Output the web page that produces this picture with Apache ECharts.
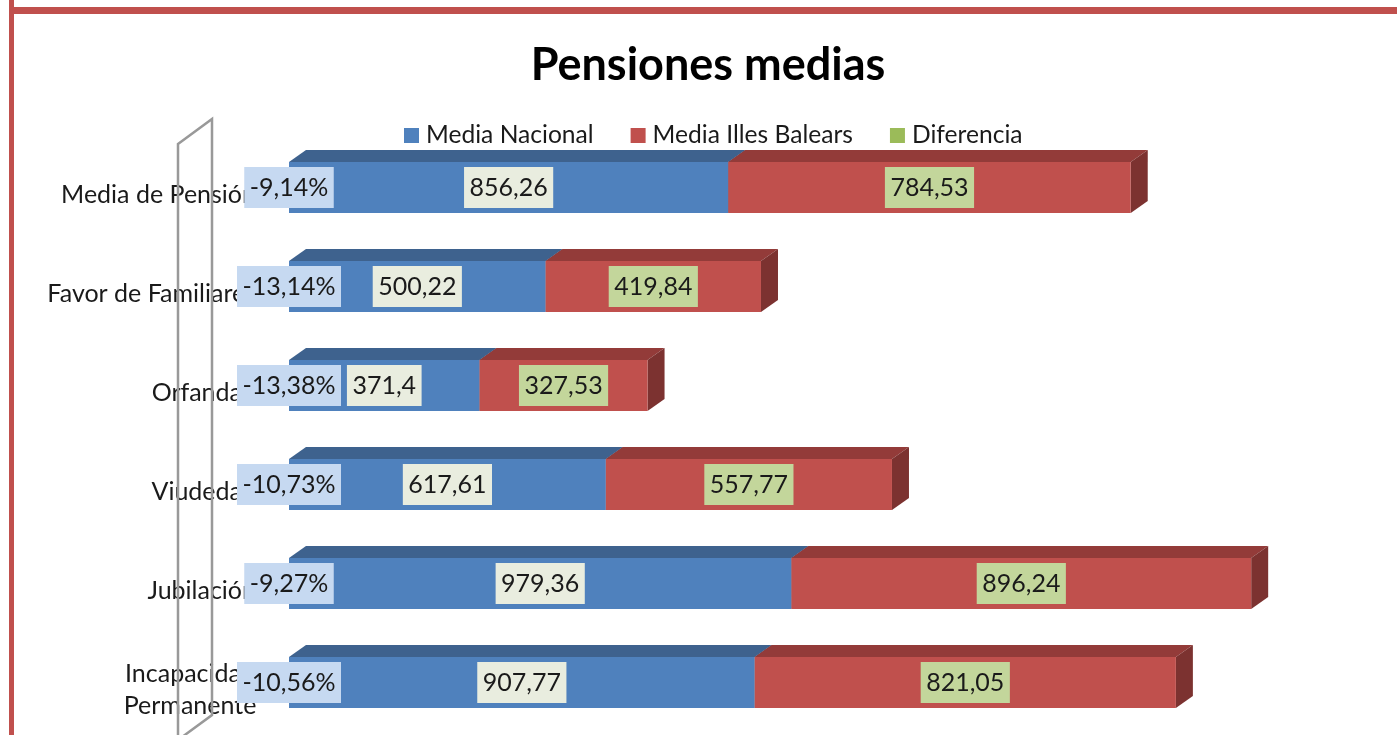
<!DOCTYPE html>
<html><head><meta charset="utf-8">
<style>html,body{margin:0;padding:0;background:#fff}#c{width:1397px;height:735px}</style>
<script src="https://cdn.jsdelivr.net/npm/echarts@6/dist/echarts.min.js"></script>
</head><body><div id="c"></div>
<script>
const categories = ['Media de Pensión','Favor de Familiares','Orfandad','Viudedad','Jubilación','Incapacidad\nPermanente'];
const mediaNacional = [856.26,500.22,371.4,617.61,979.36,907.77];
const mediaBaleares = [784.53,419.84,327.53,557.77,896.24,821.05];
const diferencia = [-9.14,-13.14,-13.38,-10.73,-9.27,-10.56];
const FONT = 'Lato, "Noto Sans", sans-serif';
const fmt = v => String(v).replace('.',',');
const DX = 17, DY = 12, BAR = 51;

function labelEl(x,y,text,bg){
  return {type:'text',z2:50,style:{x:x,y:y,text:text,align:'center',verticalAlign:'middle',
    fill:'#1a1a1a',font:'25px '+FONT,backgroundColor:bg,padding:[8,5.5,8,5.5]}};
}
function barRender(front,top,side,labelBg){
  return function(params,api){
    const a = api.coord([api.value(0),api.value(2)]);
    const b = api.coord([api.value(1),api.value(2)]);
    const yc = a[1], y0 = yc-BAR/2, y1 = yc+BAR/2;
    const x0 = a[0], x1 = b[0];
    return {type:'group',children:[
      {type:'polygon',shape:{points:[[x0,y0],[x1,y0],[x1+DX,y0-DY],[x0+DX,y0-DY]]},style:{fill:top}},
      {type:'polygon',shape:{points:[[x1,y0],[x1+DX,y0-DY],[x1+DX,y1-DY],[x1,y1]]},style:{fill:side}},
      {type:'rect',shape:{x:x0,y:y0,width:x1-x0,height:BAR},style:{fill:front}},
      labelEl((x0+x1)/2,yc,fmt(api.value(3)),labelBg)
    ]};
  };
}
function pctRender(params,api){
  const a = api.coord([0,api.value(1)]);
  return labelEl(a[0],a[1],fmt(api.value(0))+'%','#c6d9f1');
}
const option = {
  animation:false,
  backgroundColor:'#fff',
  title:{text:'Pensiones medias',left:703,top:60,textAlign:'center',textVerticalAlign:'middle',
    textStyle:{fontFamily:FONT,fontWeight:'bold',fontSize:45,color:'#000'}},
  legend:{left:399,top:118,icon:'rect',itemWidth:15,itemHeight:15,itemGap:37,
    data:['Media Nacional','Media Illes Balears','Diferencia'],
    textStyle:{fontFamily:FONT,fontSize:24.6,color:'#1a1a1a',padding:[0,0,0,2]}},
  grid:[
    {left:289,top:138,width:1026,height:594},
    {left:289,top:194.5,width:1026,height:495}
  ],
  xAxis:[
    {type:'value',min:0,max:2000,show:false,gridIndex:0},
    {type:'value',min:0,max:2000,show:false,gridIndex:1}
  ],
  yAxis:[
    {type:'category',inverse:true,data:categories,gridIndex:0,
      axisLine:{show:false},axisTick:{show:false},axisLabel:{show:false}},
    {type:'category',inverse:true,boundaryGap:false,data:categories,gridIndex:1,
      axisLine:{show:false},axisTick:{show:false},
      axisLabel:{interval:0,margin:33,fontFamily:FONT,fontSize:25,color:'#1a1a1a',align:'right',lineHeight:32,
        formatter:v=>v.includes('\n')?v.split('\n').map(s=>'{c|'+s+'}').join('\n'):v,
        rich:{c:{width:132,align:'center',fontFamily:FONT,fontSize:25,color:'#1a1a1a',lineHeight:32}}}}
  ],
  graphic:[
    {type:'rect',z:100,shape:{x:9,y:7,width:1388,height:7},style:{fill:'#c0504d'}},
    {type:'rect',z:100,shape:{x:9,y:0,width:5,height:735},style:{fill:'#c0504d'}},
    {type:'polygon',z:1,shape:{points:[[178,144],[212,119],[212,715],[178,740]]},
      style:{fill:'none',stroke:'#999999',lineWidth:2.5}}
  ],
  series:[
    {name:'Media Nacional',type:'custom',z:3,xAxisIndex:0,yAxisIndex:0,itemStyle:{color:'#4f81bd'},
      encode:{x:[0,1],y:2},
      data:mediaNacional.map((v,i)=>[0,v,i,v]),
      renderItem:barRender('#4f81bd','#3e628e','#32507a','#e9eddf')},
    {name:'Media Illes Balears',type:'custom',z:4,xAxisIndex:0,yAxisIndex:0,itemStyle:{color:'#c0504d'},
      encode:{x:[0,1],y:2},
      data:mediaBaleares.map((v,i)=>[mediaNacional[i],mediaNacional[i]+v,i,v]),
      renderItem:barRender('#c0504d','#933b39','#7c3230','#c3d69b')},
    {name:'Diferencia',type:'custom',z:5,xAxisIndex:0,yAxisIndex:0,itemStyle:{color:'#9bbb59'},
      encode:{x:0,y:1},
      data:diferencia.map((v,i)=>[v,i]),
      renderItem:pctRender}
  ]
};
echarts.init(document.getElementById('c'),null,{renderer:'canvas'}).setOption(option);
</script></body></html>
